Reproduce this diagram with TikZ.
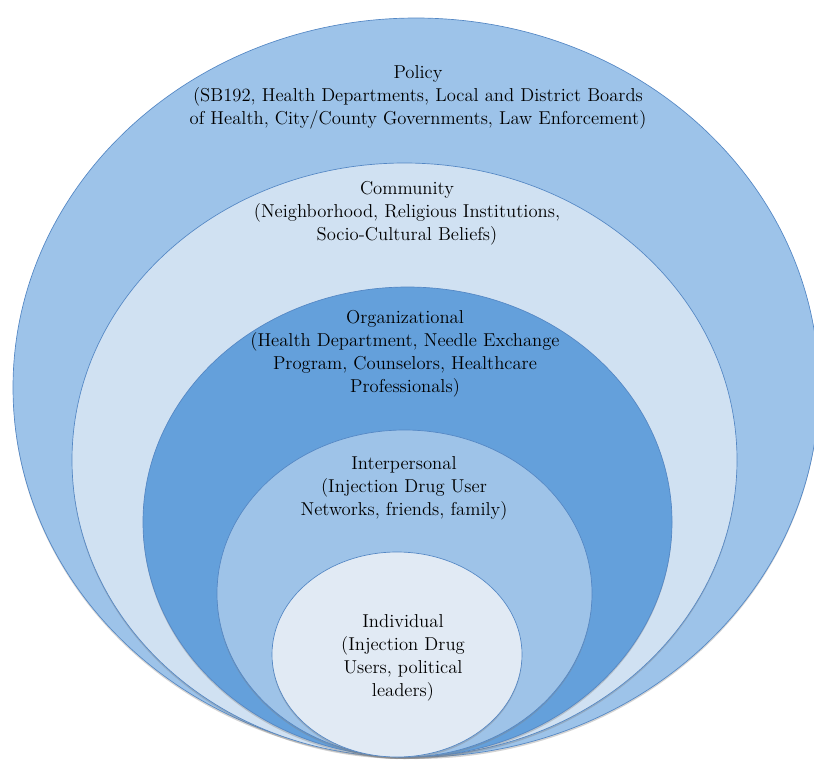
\documentclass[tikz,border=0pt]{standalone}
\usepackage{tikz}
\usetikzlibrary{shadows}

\definecolor{ringedge}{RGB}{84,135,196}
\definecolor{policyblue}{RGB}{157,195,233}
\definecolor{communityblue}{RGB}{208,225,242}
\definecolor{orgblue}{RGB}{100,160,219}
\definecolor{personblue}{RGB}{158,195,232}
\definecolor{selfblue}{RGB}{225,234,244}

\begin{document}
\begin{tikzpicture}[x=0.75pt,y=-0.75pt,
  ring/.style={draw=ringedge,line width=0.5pt,
    drop shadow={shadow xshift=0pt,shadow yshift=-1.5pt,opacity=0.35}},
  caption/.style={align=center,inner sep=0pt,
    font=\fontsize{14}{17.25}\selectfont}]

\clip (0,0) rectangle (814,760);

% levels, largest first, all sitting on the same bottom point
\draw[ring,fill=policyblue]    (416,387.5) ellipse [x radius=403,y radius=369.5];
\draw[ring,fill=communityblue] (404.5,460) ellipse [x radius=332.5,y radius=297];
\draw[ring,fill=orgblue]       (407.5,522) ellipse [x radius=264.5,y radius=235];
\draw[ring,fill=personblue]    (404.5,593.5) ellipse [x radius=187.5,y radius=163.5];
\draw[ring,fill=selfblue]      (397,654.5) ellipse [x radius=125,y radius=102.5];

\node[caption] (policy) at (418,97)
  {Policy\\(SB192, Health Departments, Local and District Boards\\of Health, City/County Governments, Law Enforcement)};
\node[caption] (community) at (407,213)
  {Community\\(Neighborhood, Religious Institutions,\\Socio-Cultural Beliefs)};
\node[caption] (organizational) at (405,354)
  {Organizational\\(Health Department, Needle Exchange\\Program, Counselors, Healthcare\\Professionals)};
\node[caption] (interpersonal) at (404,488)
  {Interpersonal\\(Injection Drug User\\Networks, friends, family)};
\node[caption] (individual) at (403,658)
  {Individual\\(Injection Drug\\Users, political\\leaders)};
\end{tikzpicture}
\end{document}
